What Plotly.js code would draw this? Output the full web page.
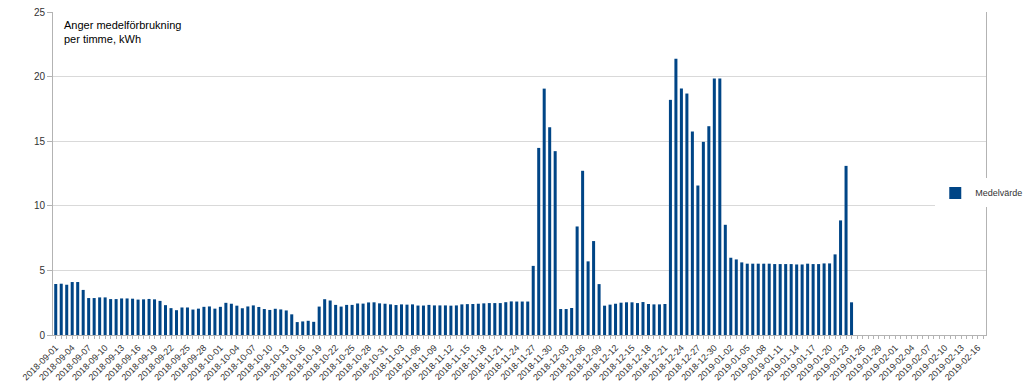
<!DOCTYPE html>
<html>
<head>
<meta charset="utf-8">
<script src="https://cdn.plot.ly/plotly-3.0.1.min.js"></script>
<style>
  html, body { margin: 0; padding: 0; background: #fff; }
  #chart { width: 1024px; height: 384px; }
</style>
</head>
<body>
<div id="chart"></div>
<script>
// Category axis: every day from 2018-09-01 to 2019-02-17
const startDate = "2018-09-01";
const dayCount = 170;
const categories = [];
(function () {
  const d = new Date(startDate + "T00:00:00Z");
  for (let i = 0; i < dayCount; i++) {
    categories.push(d.toISOString().slice(0, 10));
    d.setUTCDate(d.getUTCDate() + 1);
  }
})();

const seriesName = "Medelvärde";
const chartNote = "Anger medelförbrukning<br>per timme, kWh";

// Average consumption per hour (kWh), one value per day, 2018-09-01 .. 2019-01-24
const medelvarde = [
  3.95, 3.97, 3.89, 4.10, 4.10, 3.49, 2.86, 2.86, 2.91, 2.91,
  2.78, 2.78, 2.83, 2.83, 2.81, 2.74, 2.76, 2.79, 2.76, 2.64,
  2.31, 2.08, 1.92, 2.13, 2.13, 1.97, 2.04, 2.18, 2.21, 2.04,
  2.18, 2.49, 2.42, 2.27, 2.07, 2.21, 2.29, 2.17, 2.01, 1.94,
  2.03, 1.98, 1.90, 1.60, 1.00, 1.05, 1.10, 1.02, 2.20, 2.77,
  2.67, 2.33, 2.20, 2.33, 2.33, 2.44, 2.43, 2.52, 2.53, 2.45,
  2.42, 2.37, 2.32, 2.37, 2.35, 2.37, 2.28, 2.28, 2.33, 2.29,
  2.29, 2.29, 2.27, 2.29, 2.37, 2.39, 2.40, 2.42, 2.45, 2.47,
  2.47, 2.47, 2.54, 2.60, 2.59, 2.59, 2.59, 5.35, 14.48, 19.07,
  16.08, 14.23, 2.01, 2.01, 2.09, 8.40, 12.71, 5.70, 7.27, 3.94,
  2.27, 2.35, 2.42, 2.50, 2.53, 2.53, 2.47, 2.55, 2.40, 2.37,
  2.37, 2.40, 18.20, 21.39, 19.08, 18.69, 15.75, 11.57, 14.95, 16.16,
  19.85, 19.85, 8.53, 5.98, 5.85, 5.62, 5.52, 5.52, 5.52, 5.52,
  5.52, 5.49, 5.49, 5.49, 5.49, 5.46, 5.46, 5.52, 5.49, 5.49,
  5.54, 5.54, 6.24, 8.87, 13.09, 2.53
];

// Tick labels every third day
const tickLabels = categories.map((c, i) => (i % 3 === 0 ? c : ""));

const yValues = categories.map((c, i) => (i < medelvarde.length ? medelvarde[i] : null));

const trace = {
  type: "bar",
  name: seriesName,
  x: categories,
  y: yValues,
  marker: { color: "#004586", line: { width: 0 } },
  hoverinfo: "x+y"
};

const layout = {
  width: 1024,
  height: 384,
  margin: { l: 53, r: 38, t: 12, b: 49, pad: 0, autoexpand: false },
  paper_bgcolor: "#ffffff",
  plot_bgcolor: "#ffffff",
  font: { family: "Liberation Sans, Arial, sans-serif", color: "#333333", size: 10 },
  bargap: 0.45,
  showlegend: true,
  legend: {
    x: 1.0453, xanchor: "right",
    y: 0.44, yanchor: "middle",
    bgcolor: "rgba(255,255,255,1)",
    borderwidth: 0,
    font: { size: 9, color: "#333333" },
    itemwidth: 30
  },
  xaxis: {
    type: "category",
    range: [-0.5, dayCount - 0.5],
    tickmode: "array",
    tickvals: categories,
    ticktext: tickLabels,
    tickangle: -45,
    ticks: "outside",
    ticklen: 3,
    tickcolor: "#b3b3b3",
    tickfont: { size: 9, color: "#333333" },
    showgrid: false,
    showline: true,
    linecolor: "#b3b3b3",
    linewidth: 1,
    zeroline: false,
    fixedrange: true,
    automargin: false
  },
  yaxis: {
    range: [0, 25],
    dtick: 5,
    tick0: 0,
    ticks: "outside",
    ticklen: 5,
    tickcolor: "#b3b3b3",
    tickfont: { size: 10, color: "#333333" },
    showgrid: true,
    gridcolor: "#d9d9d9",
    gridwidth: 1,
    showline: true,
    mirror: true,
    linecolor: "#b3b3b3",
    linewidth: 1,
    zeroline: false,
    fixedrange: true,
    automargin: false
  },
  annotations: [{
    text: chartNote,
    xref: "paper", yref: "paper",
    x: 0.0096, y: 0.985,
    xanchor: "left", yanchor: "top",
    align: "left",
    showarrow: false,
    font: { size: 11, color: "#000000", family: "Liberation Sans, Arial, sans-serif" }
  }]
};

Plotly.newPlot("chart", [trace], layout, { displayModeBar: false, staticPlot: true });
</script>
</body>
</html>
